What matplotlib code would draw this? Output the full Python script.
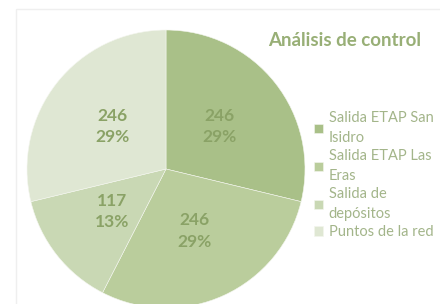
import matplotlib
matplotlib.use('Agg')
import matplotlib.pyplot as plt
import numpy as np
from matplotlib.patches import Rectangle

# Chart data
categories = ['Salida ETAP San\nIsidro', 'Salida ETAP Las\nEras', 'Salida de\ndepósitos', 'Puntos de la red']
values = [246, 246, 117, 246]
pct_labels = ['29%', '29%', '13%', '29%']
colors = ['#a9c088', '#bacd9c', '#c9d8b4', '#dfe7d3']

plt.rcParams['font.family'] = ['Lato', 'DejaVu Sans']

fig = plt.figure(figsize=(4.4, 3.04), dpi=100)
fig.patch.set_facecolor('white')

# faint chart frame
fig.patches.append(Rectangle((16 / 440, -0.1), 1.2, 1 - 9 / 304 + 0.1, transform=fig.transFigure,
                             fill=False, edgecolor='#efefef', linewidth=1.0))

R = 139
cx, cy = 166, 169
ax = fig.add_axes([(cx - R) / 440, (304 - cy - R) / 304, 2 * R / 440, 2 * R / 304])
wedges, _ = ax.pie(values, colors=colors, startangle=90, counterclock=False, radius=1,
                   wedgeprops=dict(linewidth=0.4, edgecolor='#f4f6ef'))
ax.set_xlim(-1, 1)
ax.set_ylim(-1, 1)
ax.set_aspect('equal')
ax.axis('off')

for w, v, p in zip(wedges, values, pct_labels):
    ang = np.deg2rad((w.theta1 + w.theta2) / 2)
    r = 0.49
    ax.text(r * np.cos(ang), r * np.sin(ang), f'{v}\n{p}', ha='center', va='center',
            fontsize=12.5, fontweight='bold', color='#8aa266', linespacing=1.4)

fig.text(268 / 440, 1 - 41 / 304, 'Análisis de control', fontsize=13.5, fontweight='bold',
         color='#98af76', ha='left', va='center')

leg = fig.legend(wedges, categories, loc='upper left', bbox_to_anchor=(314 / 440, 1 - 111 / 304),
                 frameon=False, fontsize=10.5, handlelength=0.6, handleheight=0.6, handletextpad=0.4,
                 labelspacing=0.25, borderaxespad=0, borderpad=0)
for t in leg.get_texts():
    t.set_color('#a3b58a')
    t.set_linespacing(1.58)

fig.savefig('out.png', dpi=100, facecolor='white')
